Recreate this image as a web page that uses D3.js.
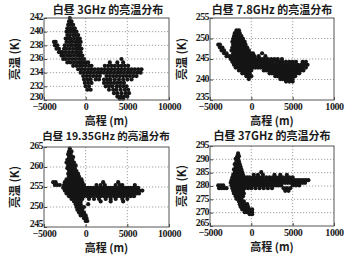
<!DOCTYPE html>
<html><head><meta charset="utf-8">
<script src="https://cdn.jsdelivr.net/npm/d3@7"></script>
<style>
html,body{margin:0;padding:0;background:#fff;}
svg text{fill:#1a1a1a;}
</style></head>
<body><svg id="c" width="363" height="264"></svg>
<script>
// ---------- data ----------
const titles = ["白昼 3GHz 的亮温分布","白昼 7.8GHz 的亮温分布","白昼 19.35GHz 的亮温分布","白昼 37GHz 的亮温分布"];
const xTicks = [-5000, 0, 5000, 10000];
const xTickLabelsLeft = ["−5000","0","5000","10000"];
const xTickLabelsRight = ["−5000","0","5000","1000"];
const yTicks3 = [230,232,234,236,238,240,242];
const yTicks78 = [235,240,245,250,255];
const yTicks1935 = [245,250,255,260,265];
const yTicks37 = [265,270,275,280,285,290,295];
const xLabel = "高程 (m)";
const yLabel = "亮温 (K)";

// rows: [brightness temperature (K), [elevations (m)]]
const rows3 = [
[242.0,[-1900]],
[241.5,[-2000,-1700]],
[241.0,[-2100,-1800,-1500]],
[240.5,[-2200,-1900,-1600,-1300]],
[240.0,[-2300,-2000,-1700,-1400,-1100]],
[239.5,[-2200,-1900,-1500,-1200,-900]],
[239.0,[-2400,-2100,-1800,-1400,-1000,-700]],
[238.5,[-3800,-3600,-2300,-1900,-1600,-1200,-900,-600]],
[238.0,[-3700,-3400,-2500,-2100,-1700,-1300,-1000,-700]],
[237.5,[-3500,-3200,-2600,-2300,-1900,-1500,-1100,-800,-500]],
[237.0,[-3200,-3000,-2800,-2400,-2000,-1600,-1200,-900,-600]],
[236.5,[-2900,-2600,-2200,-1800,-1400,-1000,-700,-400]],
[236.0,[-2700,-2400,-2000,-1600,-1200,-800,-500,-200,4300]],
[235.5,[-2200,-1800,-1400,-1000,-600,-300,0,300,2900,3800,4500]],
[235.0,[-1500,-1100,-700,-400,0,400,700,2300,2700,3100,3500,3900,4300,4700,5100]],
[234.5,[-900,-500,-100,300,700,1100,1500,1900,2300,2700,3100,3500,3900,4300,4700,5100,5500,5900,6300,6700]],
[234.0,[-600,-200,200,600,1000,1400,1800,2200,2600,3000,3400,3800,4200,4600,5000,5400,5800,6200,6600]],
[233.5,[-300,100,500,900,1300,1700,2500,2900,3300,3700,4100,4500,4900,5300,5700,6100]],
[233.0,[-200,200,600,1200,1600,2200,2600,3000,3500,4000,4500,5000,5500]],
[232.5,[-100,300,700,2200,2600,3000,3400,3800,4200,4600]],
[232.0,[0,400,2400,2800,3200,3700,4100,4500,4900]],
[231.5,[200,600,2800,3300,3700,4200,4700,5100]],
[231.0,[3400,3800,4300,4800,5200]],
[230.5,[3800,4200,4600,5000]],
[230.2,[4100,4500]]
];
const rows78 = [
[252.0,[-1800,-1500]],
[251.3,[-2000,-1700,-1400]],
[250.6,[-2100,-1800,-1500,-1200]],
[249.9,[-2200,-1900,-1600,-1300,-1000]],
[249.2,[-2300,-2000,-1700,-1400,-1100,-800]],
[248.5,[-4000,-3800,-2200,-1900,-1600,-1300,-1000,-700]],
[247.8,[-3800,-3500,-2300,-2000,-1700,-1400,-1100,-800,-500]],
[247.1,[-3600,-3300,-2400,-2100,-1800,-1500,-1200,-900,-600,-300]],
[246.4,[-3300,-3000,-2200,-1900,-1600,-1300,-1000,-700,-400,-100,200,1300]],
[245.7,[-3000,-2700,-2400,-2000,-1700,-1400,-1100,-800,-500,-200,100,400,900,1700]],
[245.0,[-2500,-2200,-1900,-1600,-1300,-1000,-700,-400,-100,200,500,800,1100,1400,1700,2000,2400,2800,3200,3700]],
[244.3,[-2300,-2000,-1700,-1400,-1100,-800,-500,-200,100,400,700,1000,1300,1600,1900,2200,2600,3000,3400,3800,4200,4600,5000,5400,6200,6600]],
[243.6,[-2100,-1800,-1500,-1200,-900,-600,-300,0,300,600,900,1200,1500,1800,2100,2400,2700,3000,3300,3600,4000,4400,4800,5200,5600,6000,6400,6800]],
[242.9,[-1900,-1600,-1300,-1000,-700,-400,-100,200,500,800,1100,1400,1700,2000,2300,2600,2900,3200,3500,3800,4100,4400,4700,5000,5300,5600,5900,6200,6600]],
[242.2,[-1500,-1200,-900,-600,-300,0,1500,1800,2100,2400,2700,3000,3300,3600,3900,4200,4500,4800,5100,5400,5700,6000,6300]],
[241.5,[-1100,-800,-500,-200,2200,2500,2800,3100,3400,3700,4000,4300,4600,4900,5200,5500,5800]],
[240.8,[-600,-300,0,2900,3200,3500,3800,4100,4400,4700,5000,5300]],
[240.1,[-300,3500,3800,4100,4400,4700,5000]],
[239.5,[4200,4600,5000]]
];
const rows1935 = [
[264.6,[-1900]],
[263.9,[-2000,-1700]],
[263.2,[-2100,-1800]],
[262.5,[-2000,-1700,-1500]],
[261.8,[-2200,-1900,-1600]],
[261.1,[-2300,-2000,-1700,-1400]],
[260.4,[-2100,-1800,-1500,-1200]],
[259.7,[-2200,-1900,-1600,-1300]],
[259.0,[-2000,-1700,-1400,-1100]],
[258.3,[-2100,-1800,-1500,-1200,-900]],
[257.6,[-2000,-1700,-1400,-1100,-800]],
[256.9,[-2300,-2000,-1700,-1400,-1100,-800,-500]],
[256.2,[-3900,-3600,-2500,-2200,-1900,-1600,-1300,-1000,-700,-400,2100,3900]],
[255.5,[-3700,-3400,-3100,-2600,-2300,-2000,-1700,-1400,-1100,-800,-500,-200,1300,1800,2300,3600,4100,4400,5900]],
[254.8,[-2700,-2400,-2100,-1800,-1500,-1200,-900,-600,-300,0,300,600,900,1200,1500,1800,2100,2400,2700,3000,3300,3600,3900,4200,4500,4800,5100,5400,5700,6000,6300]],
[254.1,[-2500,-2200,-1900,-1600,-1300,-1000,-700,-400,-100,200,500,800,1100,1400,1700,2000,2300,2600,2900,3200,3500,3800,4100,4400,4700,5000,5300,5600,5900,6200,6500,6800]],
[253.4,[-2300,-2000,-1700,-1400,-1100,-800,-500,-200,100,400,700,1000,1300,1600,1900,2200,2500,2800,3100,3400,3700,4000,4300,4600,4900,5200,5500,5800,6100,6400]],
[252.7,[-2000,-1700,-1400,-1100,-800,-500,-200,200,600,1000,1400,1800,2200,2600,3000,3400,3800,4200,4600,5000,5400,5800]],
[252.0,[-1700,-1300,-1000,-700,-400,400,1000,1600,2400,3000,3600,4400,5000]],
[251.4,[-1400,-1000,-600,1800,3000,4500]],
[250.7,[-1200,-900,-600,300]],
[250.0,[-1100,-800,-500,-200]],
[249.3,[-1000,-700,-400]],
[248.6,[-800,-500,-200]],
[247.9,[-600,-300,0]],
[247.2,[-200,100]],
[246.5,[0,200]]
];
const rows37 = [
[292.2,[-1600]],
[291.2,[-1700,-1500]],
[290.2,[-1900,-1600]],
[289.2,[-1800,-1500]],
[288.2,[-2000,-1700,-1400]],
[287.2,[-1900,-1600,-1300]],
[286.2,[-2100,-1800,-1500,-1200]],
[285.2,[-2000,-1700,-1400,-1100,1200]],
[284.2,[-2200,-1900,-1600,-1300,-1000,300,800,1400,2800,3500,4300]],
[283.2,[-2300,-2000,-1700,-1400,-1100,-800,-500,-200,200,600,1000,1400,1800,2200,2600,3000,3400,3800,4200,4600,5000]],
[282.2,[-2400,-2100,-1800,-1500,-1200,-900,-600,-300,0,300,600,900,1200,1500,1800,2100,2400,2700,3000,3300,3600,3900,4200,4500,4800,5100,5400,5700,6000,6300,6600,6900]],
[281.2,[-2500,-2200,-1900,-1600,-1300,-1000,-700,-400,-100,200,500,800,1100,1400,1700,2000,2300,2600,2900,3200,3500,3800,4100,4400,4700,5000,5300,5600,5900,6200,6500]],
[280.2,[-4000,-3700,-3400,-2400,-2100,-1800,-1500,-1200,-900,-600,-300,0,300,600,900,1200,1500,1800,2100,2400,2700,3000,3300,3600,5000,5400,5800]],
[279.2,[-3900,-3600,-3300,-3000,-2300,-2000,-1700,-1400,-1100,-800,-400,0,500,1000,1500,2000,2500,3900,4300,4700]],
[278.2,[-2200,-1900,-1600,-1300,-1000,4100,4500]],
[277.2,[-2100,-1800,-1500,-1200,-900]],
[276.2,[-1900,-1600,-1300,-1000]],
[275.2,[-1800,-1500,-1200]],
[274.2,[-1500,-1200,-900]],
[273.2,[-1400,-1100,-800,-500]],
[272.2,[-1300,-1000,-700,-400]],
[271.2,[-1100,-800,-500,-200,100]],
[270.2,[-800,-500,-200,100]],
[269.4,[-200,100]]
];
const toPts = rows => rows.flatMap(([t, es]) => es.map(e => [e, t]));

// ---------- layout ----------
const panels = [
  {title:titles[0], pts:toPts(rows3),    yTicks:yTicks3,    xl:xTickLabelsLeft,  L:44,  R:169, T:18,  B:100, yl:19,  tx:108, ty:14, fs:11},
  {title:titles[1], pts:toPts(rows78),   yTicks:yTicks78,   xl:xTickLabelsRight, L:210, R:334, T:18,  B:100, yl:186, tx:272, ty:14, fs:11},
  {title:titles[2], pts:toPts(rows1935), yTicks:yTicks1935, xl:xTickLabelsLeft,  L:44,  R:169, T:147, B:227, yl:19,  tx:106, ty:140, fs:10.5},
  {title:titles[3], pts:toPts(rows37),   yTicks:yTicks37,   xl:xTickLabelsRight, L:210, R:334, T:146, B:226, yl:186, tx:272, ty:140, fs:11}
];
const svg = d3.select("#c");
const serif = "'Liberation Serif','DejaVu Serif',serif";
const cjk = "'Noto Sans CJK SC','Liberation Serif',serif";

panels.forEach(p => {
  const x = d3.scaleLinear().domain([xTicks[0], xTicks[xTicks.length-1]]).range([p.L, p.R]);
  const y = d3.scaleLinear().domain([p.yTicks[0], p.yTicks[p.yTicks.length-1]]).range([p.B, p.T]);
  const g = svg.append("g");
  g.append("g").selectAll("line").data(xTicks.slice(1,-1)).join("line")
    .attr("x1",d=>x(d)).attr("x2",d=>x(d)).attr("y1",p.T).attr("y2",p.B)
    .attr("stroke","#8a8a8a").attr("stroke-width",0.8).attr("stroke-dasharray","1.2,1.8");
  g.append("g").selectAll("line").data(p.yTicks.slice(1,-1)).join("line")
    .attr("y1",d=>y(d)).attr("y2",d=>y(d)).attr("x1",p.L).attr("x2",p.R)
    .attr("stroke","#8a8a8a").attr("stroke-width",0.8).attr("stroke-dasharray","1.2,1.8");
  g.append("g").selectAll("circle").data(p.pts).join("circle")
    .attr("cx",d=>x(d[0])).attr("cy",d=>y(d[1])).attr("r",2.1).attr("fill","#151515");
  const xa = d3.axisBottom(x).tickValues(xTicks).tickSize(-3).tickPadding(3)
    .tickFormat((d,i)=>p.xl[i]);
  const ya = d3.axisLeft(y).tickValues(p.yTicks).tickSize(-3).tickPadding(1)
    .tickFormat(d3.format("d"));
  const gx = g.append("g").attr("transform",`translate(0,${p.B})`).call(xa);
  const gy = g.append("g").attr("transform",`translate(${p.L},0)`).call(ya);
  [gx,gy].forEach(a=>{
    a.select(".domain").remove();
    a.selectAll(".tick line").attr("stroke","#444");
    a.selectAll("text").attr("font-family",serif).attr("font-size",10).attr("fill","#1a1a1a").attr("font-weight","bold");
  });
  gy.selectAll("text").attr("letter-spacing",-0.6).attr("y",(d,i)=> i===0 ? -3.5 : -1.5);
  gx.selectAll("text").attr("letter-spacing",-0.4);
  g.append("rect").attr("x",p.L).attr("y",p.T).attr("width",p.R-p.L).attr("height",p.B-p.T)
    .attr("fill","none").attr("stroke","#555").attr("stroke-width",1);
  g.append("text").attr("x",p.tx).attr("y",p.ty).attr("text-anchor","middle")
    .attr("font-family",cjk).attr("font-size",p.fs).attr("font-weight","bold").text(p.title);
  g.append("text").attr("x",(p.L+p.R)/2).attr("y",p.B+25).attr("text-anchor","middle")
    .attr("font-family",cjk).attr("font-size",11).attr("font-weight","bold").text(xLabel);
  g.append("text").attr("transform",`translate(${p.yl},${(p.T+p.B)/2}) rotate(-90)`)
    .attr("text-anchor","middle").attr("font-family",cjk).attr("font-size",11.5).attr("font-weight","bold").text(yLabel);
});
</script></body></html>
